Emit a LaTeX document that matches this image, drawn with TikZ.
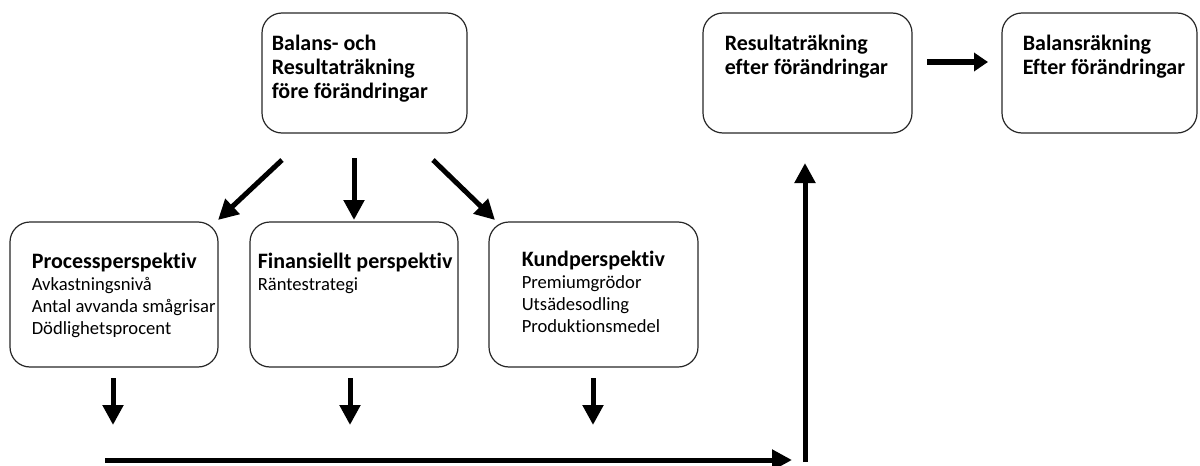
\documentclass[tikz,border=0pt]{standalone}
\usepackage{fontspec}
\setmainfont{Carlito}[Ligatures={NoCommon}]
\usetikzlibrary{arrows.meta}

\begin{document}
\begin{tikzpicture}[x=0.5pt, y=-0.5pt,
  ruta/.style={draw=black!85, line width=0.6pt, rounded corners=10pt, inner sep=0pt},
  rubrik/.style={font=\bfseries\fontsize{11}{12}\selectfont, align=left, inner sep=0pt, anchor=north west},
  punkter/.style={font=\fontsize{9.3}{11}\selectfont, align=left, inner sep=0pt, anchor=north west},
  pil/.style={line width=2.5pt, -{Triangle[length=10pt, width=10pt]}}]
  \useasboundingbox (0,0) rectangle (1200,466);
  % rutor
  \node[ruta, minimum width=102.5pt, minimum height=60pt] (fore) at (364.5,73) {};
  \node[ruta, minimum width=104pt, minimum height=72.5pt] (process) at (114,294.5) {};
  \node[ruta, minimum width=104pt, minimum height=72.5pt] (finans) at (354,294.5) {};
  \node[ruta, minimum width=104.5pt, minimum height=72.5pt] (kund) at (593.5,294.5) {};
  \node[ruta, minimum width=104.5pt, minimum height=60pt] (resultat) at (807.5,73) {};
  \node[ruta, minimum width=97.5pt, minimum height=60pt] (balans) at (1099.5,73) {};
  % texter
  \node[rubrik] (foretext) at ([shift={(10,22)}]fore.north west) {Balans- och\\Resultaträkning\\före förändringar};
  \node[punkter] (processtext) at ([shift={(22,31)}]process.north west)
    {{\bfseries\fontsize{11}{12}\selectfont Processperspektiv}\\Avkastningsnivå\\Antal avvanda smågrisar\\Dödlighetsprocent};
  \node[punkter] (finanstext) at ([shift={(8,31)}]finans.north west)
    {{\bfseries\fontsize{11}{12}\selectfont Finansiellt perspektiv}\\Räntestrategi};
  \node[punkter] (kundtext) at ([shift={(33,29)}]kund.north west)
    {{\bfseries\fontsize{11}{12}\selectfont Kundperspektiv}\\Premiumgrödor\\Utsädesodling\\Produktionsmedel};
  \node[rubrik] (resultattext) at ([shift={(22,22)}]resultat.north west) {Resultaträkning\\efter förändringar};
  \node[rubrik] (balanstext) at ([shift={(21,22)}]balans.north west) {Balansräkning\\Efter förändringar};
  % pilar ut från första rutan
  \coordinate (v1) at (282,160); \coordinate (v2) at (218,220);
  \coordinate (m1) at (354,158); \coordinate (m2) at (354,220);
  \coordinate (h1) at (433,160); \coordinate (h2) at (495,220);
  \draw[pil] (v1) -- (v2);
  \draw[pil] (m1) -- (m2);
  \draw[pil] (h1) -- (h2);
  % pilar ner från perspektiven
  \coordinate (p1) at (113,378); \coordinate (p2) at (113,425);
  \coordinate (f1) at (350,378); \coordinate (f2) at (350,425);
  \coordinate (k1) at (593,378); \coordinate (k2) at (593,425);
  \draw[pil] (p1) -- (p2);
  \draw[pil] (f1) -- (f2);
  \draw[pil] (k1) -- (k2);
  % samlande pil och pil upp
  \coordinate (s1) at (105,460); \coordinate (s2) at (792,460);
  \coordinate (u1) at (805,462); \coordinate (u2) at (805,163);
  \draw[pil] (s1) -- (s2);
  \draw[pil] (u1) -- (u2);
  % mellan resultat och balans
  \coordinate (r1) at (927,62); \coordinate (r2) at (988,62);
  \draw[line width=3.3pt, -{Triangle[length=7pt, width=9pt]}] (r1) -- (r2);
\end{tikzpicture}
\end{document}
